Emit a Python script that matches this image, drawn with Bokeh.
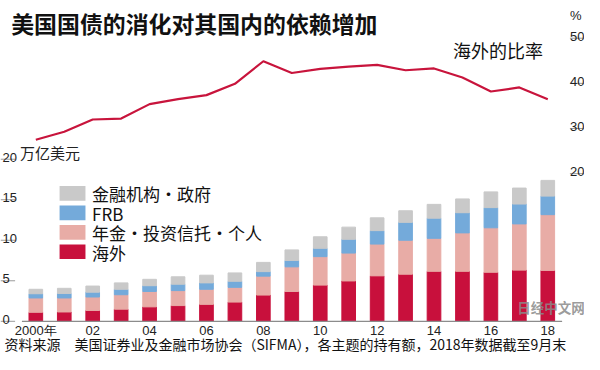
from bokeh.plotting import figure
from bokeh.models import Range1d, ColumnDataSource
from bokeh.core.properties import value
from bokeh.embed import file_html
from bokeh.resources import INLINE

# ---------------- data ----------------
years = list(range(2000, 2019))
# holdings, trillion USD (stack order bottom -> top)
foreign = [1.11, 1.15, 1.34, 1.50, 1.78, 1.94, 2.09, 2.37, 3.24, 3.68,
           4.47, 4.98, 5.61, 5.81, 6.17, 6.17, 6.05, 6.32, 6.28]
pension = [1.77, 1.73, 1.66, 1.78, 1.90, 1.85, 1.86, 1.82, 2.33, 3.04,
           3.51, 3.44, 3.92, 4.19, 4.07, 4.74, 5.49, 5.70, 6.88]
frb = [0.52, 0.56, 0.60, 0.67, 0.71, 0.79, 0.79, 0.75, 0.56, 0.79,
       1.03, 1.70, 1.66, 2.21, 2.49, 2.49, 2.49, 2.45, 2.29]
fin_gov = [0.55, 0.63, 0.75, 0.79, 0.79, 0.91, 0.95, 1.03, 1.14, 1.30,
           1.42, 1.50, 1.58, 1.43, 1.70, 1.70, 1.94, 1.97, 1.94]
# foreign share, %
foreign_share = [27.5, 29.3, 32.0, 32.2, 35.4, 36.5, 37.4, 39.9, 44.9, 42.3,
                 43.2, 43.7, 44.1, 42.9, 43.3, 41.3, 38.2, 39.1, 36.5]

series_keys = ["foreign", "pension", "frb", "fin_gov"]
series_names = ["海外", "年金・投资信托・个人", "FRB", "金融机构・政府"]
series_colors = ["#C8103C", "#E8ACA6", "#74AADA", "#C9C9C9"]
line_color = "#C8143C"

x_ticks = [2000, 2002, 2004, 2006, 2008, 2010, 2012, 2014, 2016, 2018]
x_tick_labels = ["2000年", "02", "04", "06", "08", "10", "12", "14", "16", "18"]
left_ticks = [0, 5, 10, 15, 20]
left_tick_labels = ["0", "5", "10", "15", "20"]
right_ticks = [20, 30, 40, 50]
right_tick_labels = ["20", "30", "40", "50"]

title = "美国国债的消化对其国内的依赖增加"
line_label = "海外的比率"
left_unit = "万亿美元"
right_unit = "%"
source_note = "资料来源　美国证券业及金融市场协会（SIFMA），各主题的持有额，2018年数据截至9月末"
watermark = "日经中文网"

CJK = value("Noto Sans CJK SC")
NUM = value("Liberation Sans")

# ---------------- figure ----------------
W, H = 584, 354
p = figure(width=W, height=H,
           x_range=Range1d(1998.758, 2019.291),
           y_range=Range1d(-4.097, 39.587),
           x_axis_location=None, y_axis_location=None,
           toolbar_location=None, output_backend="svg",
           min_border=0, outline_line_color=None,
           background_fill_color="white", border_fill_color="white")
p.grid.visible = False
# layout coordinate system (reference pixels) and percentage scale
p.extra_x_ranges = {"px": Range1d(0, 600)}
p.extra_y_ranges = {"px": Range1d(370, 0), "pct": Range1d(-20.04, 58.35)}

# ---------------- bars ----------------
src = ColumnDataSource(dict(year=years, foreign=foreign, pension=pension,
                            frb=frb, fin_gov=fin_gov))
p.vbar_stack(series_keys, x="year", width=0.48, color=series_colors,
             source=src)

# baseline axis line
p.segment(x0=[22], x1=[577], y0=[0], y1=[0], x_range_name="px",
          line_color="#8c8c8c", line_width=1.3)

# ---------------- line ----------------
p.line(years, foreign_share, y_range_name="pct", line_color=line_color,
       line_width=2.2, line_join="round")

# ---------------- left axis ----------------
n = len(left_ticks)
p.segment(x0=[0] * n, x1=[15] * n, y0=left_ticks, y1=left_ticks,
          x_range_name="px", line_color="#9a9a9a", line_width=1)
p.text(x=[2] * n, y=left_ticks, text=left_tick_labels, x_range_name="px",
       text_font=NUM, text_font_size="13px", text_color="#222222",
       text_baseline="alphabetic", text_align="left", y_offset=-2)
p.text(x=[20], y=[158.5], text=[left_unit], x_range_name="px",
       y_range_name="px", text_font=CJK, text_font_size="15px",
       text_color="#222222", text_baseline="middle")

# ---------------- right axis ----------------
m = len(right_ticks)
p.segment(x0=[585] * m, x1=[599] * m, y0=right_ticks, y1=right_ticks,
          x_range_name="px", y_range_name="pct",
          line_color="#9a9a9a", line_width=1)
p.text(x=[585] * m, y=right_ticks, text=right_tick_labels,
       x_range_name="px", y_range_name="pct",
       text_font=NUM, text_font_size="13px", text_color="#222222",
       text_baseline="alphabetic", text_align="left", y_offset=-2)
p.text(x=[585], y=[16], text=[right_unit], x_range_name="px",
       y_range_name="px", text_font=NUM, text_font_size="13px",
       text_color="#222222", text_baseline="middle")

# ---------------- x tick labels ----------------
p.text(x=x_ticks, y=[345] * len(x_ticks), text=x_tick_labels,
       y_range_name="px", text_font=NUM, text_font_size="13px",
       text_color="#222222", text_align="center", text_baseline="middle")

# ---------------- legend ----------------
leg_x0, leg_x1, leg_top, leg_h, leg_pitch, leg_text_x = 60.7, 87.3, 194, 15.4, 20.3, 94
order = list(range(len(series_names)))[::-1]
tops = [leg_top + i * leg_pitch for i in range(len(order))]
p.quad(left=[leg_x0] * len(order), right=[leg_x1] * len(order),
       top=tops, bottom=[t + leg_h for t in tops],
       fill_color=[series_colors[k] for k in order], line_color=None,
       x_range_name="px", y_range_name="px")
p.text(x=[leg_text_x] * len(order), y=[t + leg_h / 2 + 0.5 for t in tops],
       text=[series_names[k] for k in order],
       x_range_name="px", y_range_name="px",
       text_font=CJK, text_font_size="17px", text_color="#111111",
       text_baseline="middle")

# ---------------- titles & notes ----------------
p.text(x=[11], y=[23.5], text=[title], x_range_name="px", y_range_name="px",
       text_font=CJK, text_font_size="22.9px", text_font_style="bold",
       text_color="#111111", text_baseline="middle")
p.text(x=[465], y=[51.5], text=[line_label], x_range_name="px",
       y_range_name="px", text_font=CJK, text_font_size="18px",
       text_color="#111111", text_baseline="middle")
p.text(x=[4], y=[359.5], text=[source_note], x_range_name="px",
       y_range_name="px", text_font=CJK, text_font_size="14px",
       text_color="#111111", text_baseline="middle")
p.text(x=[531], y=[320], text=[watermark], x_range_name="px",
       y_range_name="px", text_font=CJK, text_font_size="13.5px",
       text_font_style="bold", text_color="#8a8a8a", text_alpha=0.85,
       text_baseline="middle")

open("out.html", "w").write(file_html(p, INLINE))
